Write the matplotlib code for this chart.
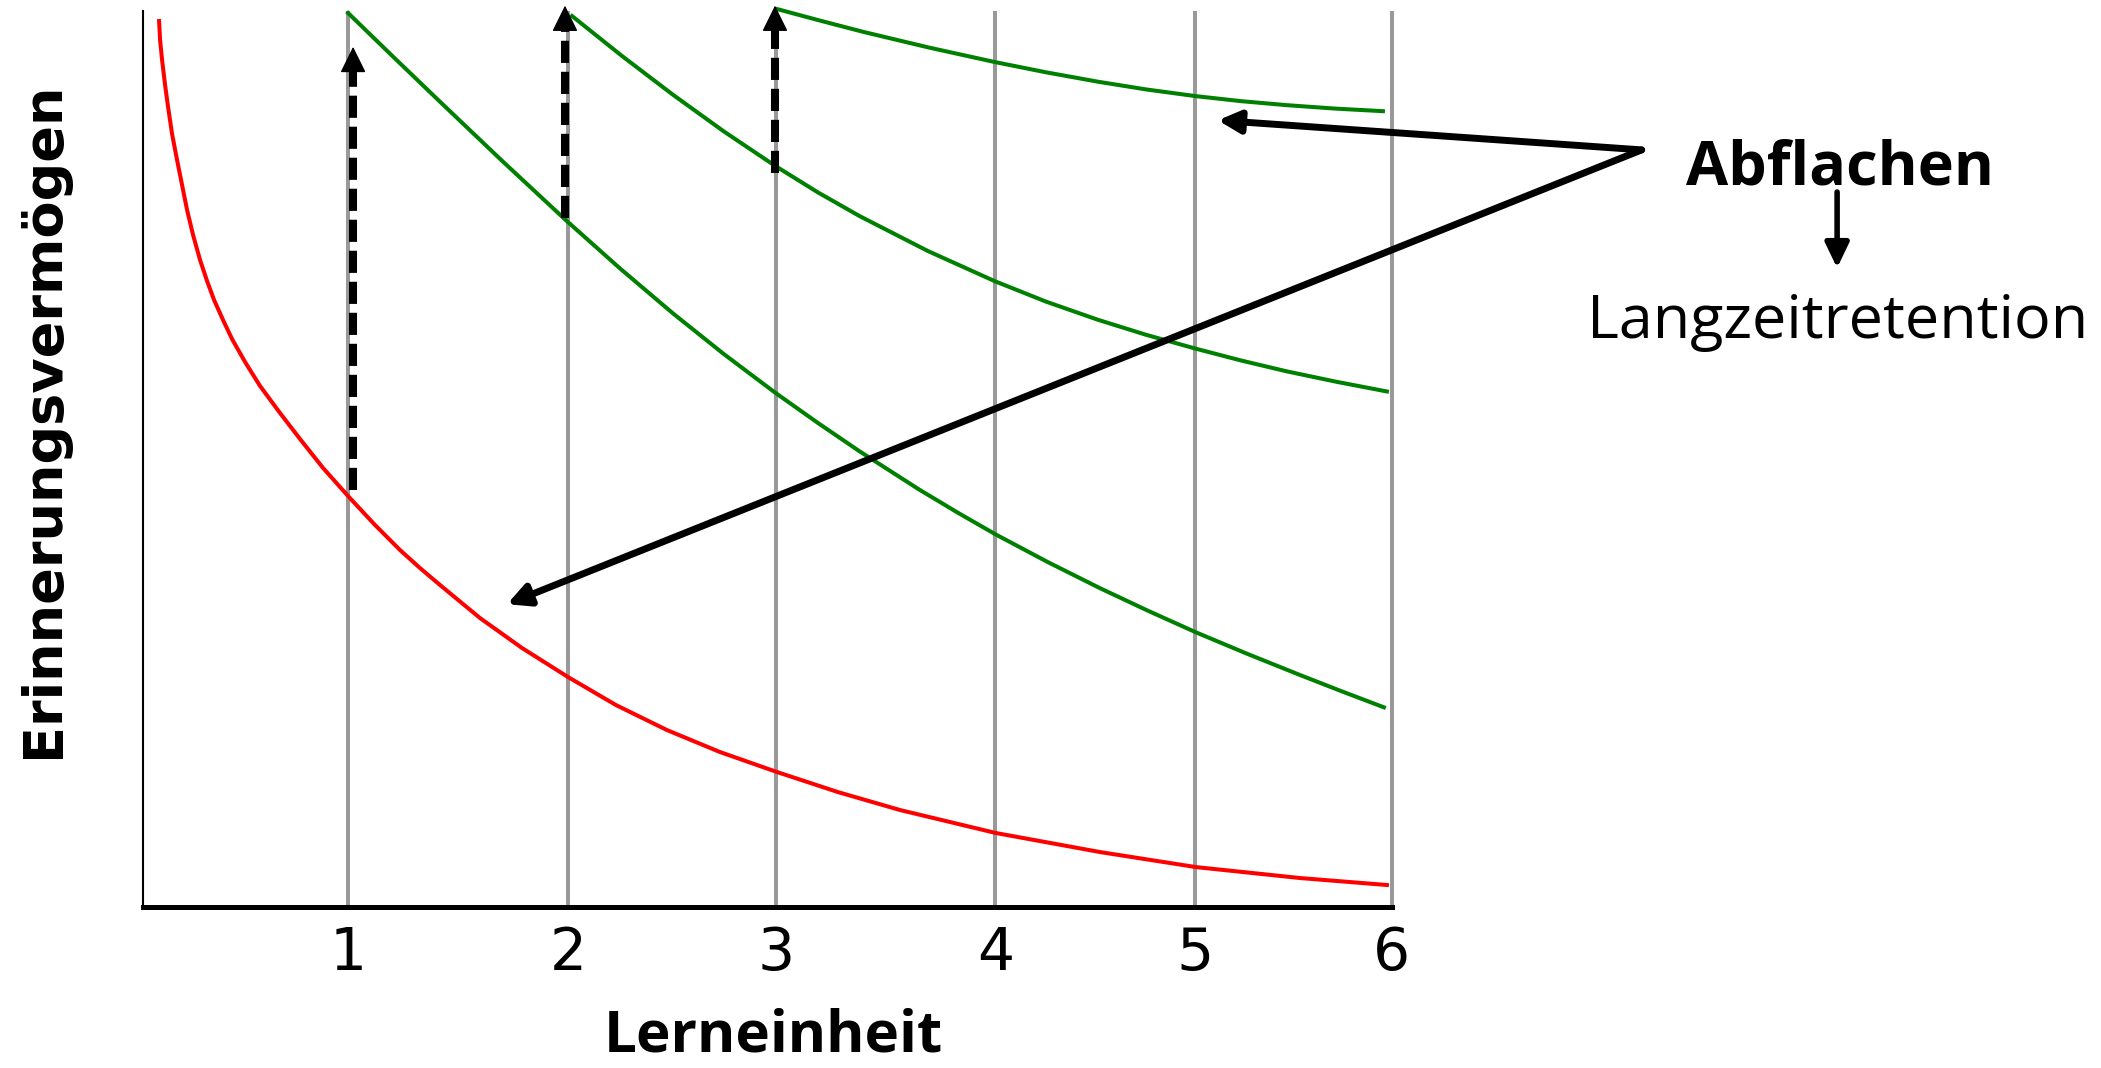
import numpy as np
import matplotlib.pyplot as plt

# Lerneinheiten: Lage der grauen Linien auf der x-Achse
session_x = [0.983, 2.042, 3.041, 4.095, 5.056, 6.0]
session_labels = ['1', '2', '3', '4', '5', '6']

# Vergessenskurve ohne Wiederholung (rot)
red_x = [0.0769, 0.0817, 0.0913, 0.1057, 0.1201, 0.1393, 0.1633, 0.1873, 0.2114, 0.2402,
         0.2738, 0.3074, 0.3411, 0.3843, 0.4275, 0.4900, 0.5620, 0.6581, 0.7542, 0.8647,
         0.9848, 1.1097, 1.2346, 1.3306, 1.4267, 1.6189, 1.8206, 2.0416, 2.2722, 2.5172,
         2.7718, 3.0456, 3.3386, 3.6365, 4.0976, 4.5972, 5.0584, 5.5580, 5.9759]
red_y = [0.9888, 0.9676, 0.9453, 0.9174, 0.8929, 0.8627, 0.8337, 0.8058, 0.7779, 0.7500,
         0.7221, 0.6987, 0.6775, 0.6551, 0.6339, 0.6083, 0.5815, 0.5513, 0.5223, 0.4900,
         0.4587, 0.4275, 0.3984, 0.3783, 0.3594, 0.3225, 0.2891, 0.2567, 0.2254, 0.1975,
         0.1730, 0.1507, 0.1283, 0.1083, 0.0826, 0.0614, 0.0446, 0.0324, 0.0246]

# Kurven nach jeder Wiederholung (gruen)
green1_x = [0.9848, 1.2057, 1.4267, 1.7294, 2.0368, 2.2914, 2.5460, 2.7910, 3.0360, 3.2426,
            3.4443, 3.7325, 3.9151, 4.0976, 4.3474, 4.5972, 4.8278, 5.0584, 5.3082, 5.5580,
            5.7597, 5.9615]
green1_y = [0.9978, 0.9480, 0.8987, 0.8318, 0.7654, 0.7127, 0.6625, 0.6170, 0.5742, 0.5402,
            0.5083, 0.4654, 0.4400, 0.4157, 0.3849, 0.3559, 0.3307, 0.3066, 0.2823, 0.2590,
            0.2407, 0.2229]

green2_x = [2.0608, 2.3010, 2.5460, 2.7910, 3.0360, 3.2426, 3.4443, 3.7710, 4.0928, 4.3378,
            4.5876, 4.8182, 5.0536, 5.2746, 5.4955, 5.7357, 5.9759]
green2_y = [0.9944, 0.9498, 0.9065, 0.8655, 0.8273, 0.7975, 0.7709, 0.7321, 0.6984, 0.6757,
            0.6554, 0.6387, 0.6234, 0.6100, 0.5978, 0.5861, 0.5754]

green3_x = [3.0456, 3.2522, 3.4587, 3.7758, 4.0928, 4.3378, 4.5876, 4.8182, 5.0536, 5.2746,
            5.4955, 5.7261, 5.9567]
green3_y = [1.0022, 0.9893, 0.9768, 0.9592, 0.9430, 0.9316, 0.9211, 0.9125, 0.9051, 0.8994,
            0.8949, 0.8911, 0.8882]

# Wiederholungen (gestrichelte Pfeile): x, von, bis
review_x = [1.009, 2.027, 3.036]
review_from = [0.465, 0.769, 0.819]
review_to = [0.960, 1.006, 1.006]

fig = plt.figure(figsize=(21.01, 10.68), dpi=100)
ax = fig.add_axes([0.0681, 0.1507, 0.5944, 0.8390])
ax.set_xlim(0, 6)
ax.set_ylim(0, 1)

# graue Linien fuer die Lerneinheiten
ax.vlines(session_x, 0, 1, colors='#999999', lw=2.9, zorder=1, clip_on=False)

ax.plot(red_x, red_y, color='#ff0000', lw=2.9, zorder=3, clip_on=False,
        solid_joinstyle='round')
for gx, gy in [(green1_x, green1_y), (green2_x, green2_y), (green3_x, green3_y)]:
    ax.plot(gx, gy, color='#008000', lw=2.9, zorder=3, clip_on=False,
            solid_joinstyle='round')

head = '-|>,head_length=0.83,head_width=0.41'
for x, y0, y1 in zip(review_x, review_from, review_to):
    ax.plot([x, x], [y0, y1 - 0.024], color='black', lw=5.8, ls=(0, (2.75, 1.1)),
            dash_capstyle='butt', zorder=4, clip_on=False)
    ax.annotate('', xy=(x, y1), xytext=(x, y1 - 0.026),
                arrowprops=dict(arrowstyle=head, mutation_scale=20, color='black',
                                lw=1, shrinkA=0, shrinkB=0),
                annotation_clip=False, zorder=4)

# Pfeile von "Abflachen" auf die Kurven
vertex = (7.20, 0.845)
thick = '-|>,head_length=0.65,head_width=0.33'
for tip in [(5.164, 0.878), (1.749, 0.338)]:
    ax.annotate('', xy=tip, xytext=vertex,
                arrowprops=dict(arrowstyle=thick, mutation_scale=20, color='black',
                                lw=5, shrinkA=0, shrinkB=0),
                annotation_clip=False, zorder=5)

ax.annotate('', xy=(0.8744, 0.7491), xytext=(0.8744, 0.8202), xycoords='figure fraction',
            arrowprops=dict(arrowstyle='-|>,head_length=0.75,head_width=0.36',
                            mutation_scale=20, color='black', lw=4, shrinkA=0, shrinkB=0))

for side in ['top', 'right']:
    ax.spines[side].set_visible(False)
ax.spines['left'].set_linewidth(1.5)
ax.spines['bottom'].set_linewidth(3.6)
ax.set_yticks([])
ax.set_xticks(session_x, session_labels, fontsize=42)
ax.tick_params(axis='x', length=0, pad=13)

fig.text(0.0205, 0.6066, 'Erinnerungsvermögen', rotation=90, ha='center', va='center',
         fontsize=39, fontweight='bold')
fig.text(0.368, 0.002, 'Lerneinheit', ha='center', va='bottom', fontsize=42,
         fontweight='bold', family='Open Sans')
fig.text(0.8758, 0.8268, 'Abflachen', ha='center', va='baseline', fontsize=44,
         fontweight='bold', family='Open Sans')
fig.text(0.8748, 0.6835, 'Langzeitretention', ha='center', va='baseline', fontsize=44,
         family='Open Sans')

fig.savefig('out.png', dpi=100)
